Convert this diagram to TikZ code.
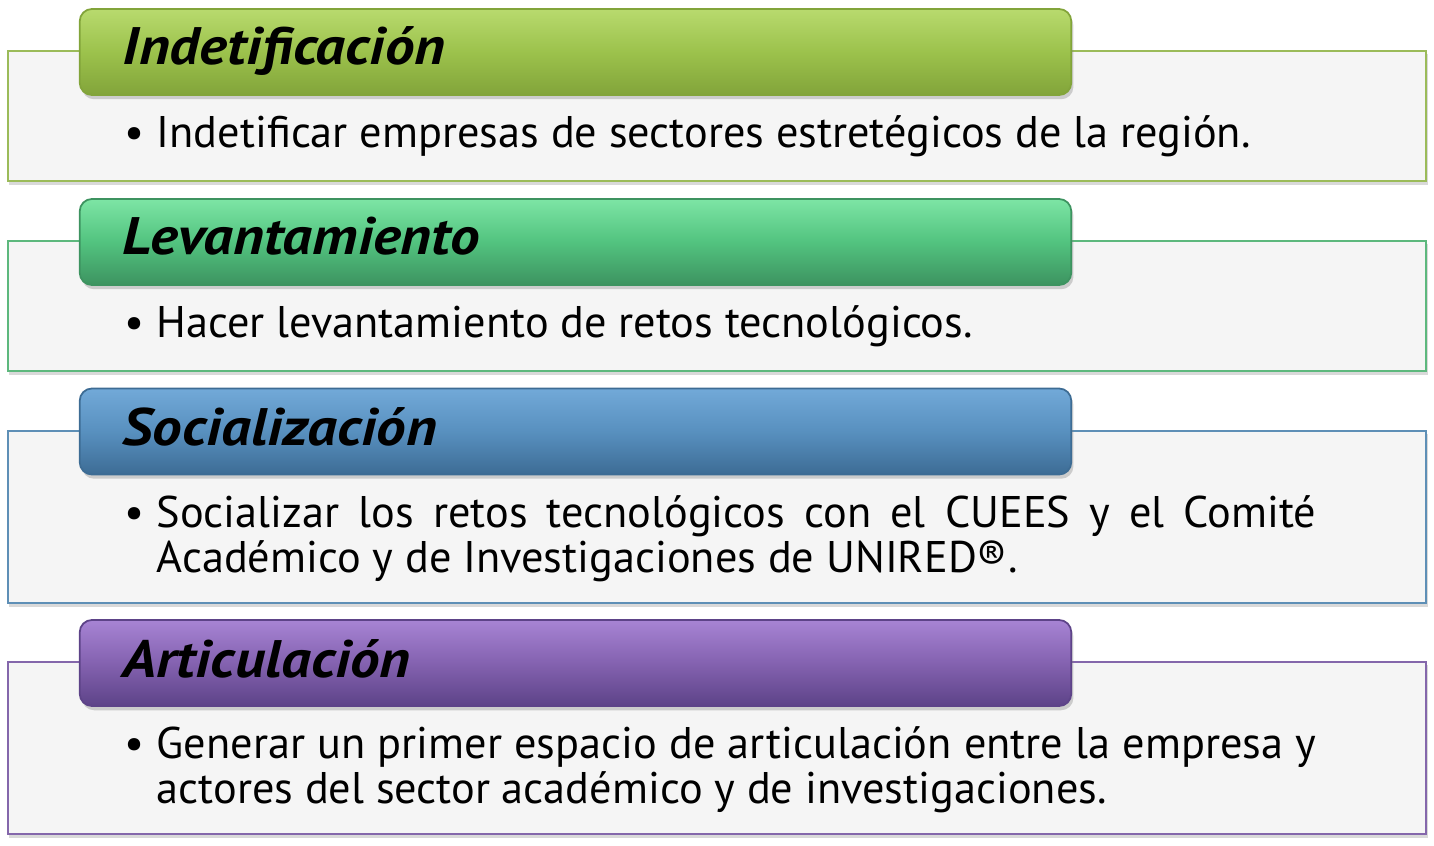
\documentclass[tikz,border=0pt]{standalone}
\usepackage{fontspec}
\usepackage{graphicx}
\setmainfont{PT Sans}
\newfontfamily\fuentetitulo[FakeStretch=1.12]{PT Sans}
\usetikzlibrary{shadows,positioning}

\definecolor{fondo}{HTML}{F5F5F5}
\definecolor{verdeA}{HTML}{9BBB59}
\definecolor{verdeAc}{HTML}{B8DA6E}
\definecolor{verdeAm}{HTML}{9CC24C}
\definecolor{verdeAo}{HTML}{82A43A}
\definecolor{verdeB}{HTML}{5DB87D}
\definecolor{verdeBc}{HTML}{7DE5A5}
\definecolor{verdeBm}{HTML}{52C37F}
\definecolor{verdeBo}{HTML}{3D9360}
\definecolor{azul}{HTML}{5E8FB6}
\definecolor{azulc}{HTML}{72A9D8}
\definecolor{azulm}{HTML}{5890BF}
\definecolor{azulo}{HTML}{3D6C94}
\definecolor{morado}{HTML}{8467AB}
\definecolor{moradoc}{HTML}{A784D4}
\definecolor{moradom}{HTML}{8462B0}
\definecolor{moradoo}{HTML}{5D4388}

\newcommand{\vineta}{\hspace{0.03cm}\makebox[0.32cm][l]{\textbullet}}

\begin{document}
\begin{tikzpicture}[x=0.01cm,y=-0.01cm,
  caja/.style={draw=#1, fill=fondo, line width=0.6pt, minimum width=14.18cm, inner sep=0pt,
    drop shadow={opacity=0.3, shadow xshift=0.5pt, shadow yshift=-1pt}},
  cabeza/.style n args={3}{draw=#3, line width=0.5pt, rounded corners=3.5pt, top color=#1, bottom color=#3, middle color=#2,
    minimum width=9.91cm, minimum height=0.86cm, inner sep=0pt,
    drop shadow={opacity=0.35, shadow xshift=0.6pt, shadow yshift=-1.2pt}},
  titulo/.style={anchor=base west, inner sep=0pt, font=\fuentetitulo\fontsize{15}{17}\selectfont\bfseries\itshape},
  texto/.style={anchor=north west, inner sep=0pt, font=\fontsize{12.6}{12.7}\selectfont}
]
\useasboundingbox (0,0) rectangle (1434,846);

% Indetificacion
\node[caja=verdeA, minimum height=1.3cm] (b1) at (717,116) {};
\node[cabeza={verdeAc}{verdeAm}{verdeAo}] (h1) at (575.5,52) {};
\node[titulo] (t1) at (122,65) {Indetificación};
\node[texto] (c1) at (121,115) {\vineta\parbox[t]{11.59cm}{Indetificar empresas de sectores estretégicos de la región.}};

% Levantamiento
\node[caja=verdeB, minimum height=1.3cm] (b2) at (717,306) {};
\node[cabeza={verdeBc}{verdeBm}{verdeBo}] (h2) at (575.5,242) {};
\node[titulo] (t2) at (122,255) {Levantamiento};
\node[texto] (c2) at (121,305) {\vineta\parbox[t]{11.59cm}{Hacer levantamiento de retos tecnológicos.}};

% Socializacion
\node[caja=azul, minimum height=1.72cm] (b3) at (717,517) {};
\node[cabeza={azulc}{azulm}{azulo}] (h3) at (575.5,431.5) {};
\node[titulo] (t3) at (122,445) {Socialización};
\node[texto] (c3) at (121,495) {\vineta\parbox[t]{11.59cm}{Socializar los retos tecnológicos con el CUEES y el Comité Académico y de Investigaciones de UNIRED®.}};

% Articulacion
\node[caja=morado, minimum height=1.72cm] (b4) at (717,748) {};
\node[cabeza={moradoc}{moradom}{moradoo}] (h4) at (575.5,663) {};
\node[titulo] (t4) at (122,677) {Articulación};
\node[texto] (c4) at (121,726) {\vineta\parbox[t]{11.59cm}{Generar un primer espacio de articulación entre la empresa y actores del sector académico y de investigaciones.}};

\end{tikzpicture}
\end{document}
